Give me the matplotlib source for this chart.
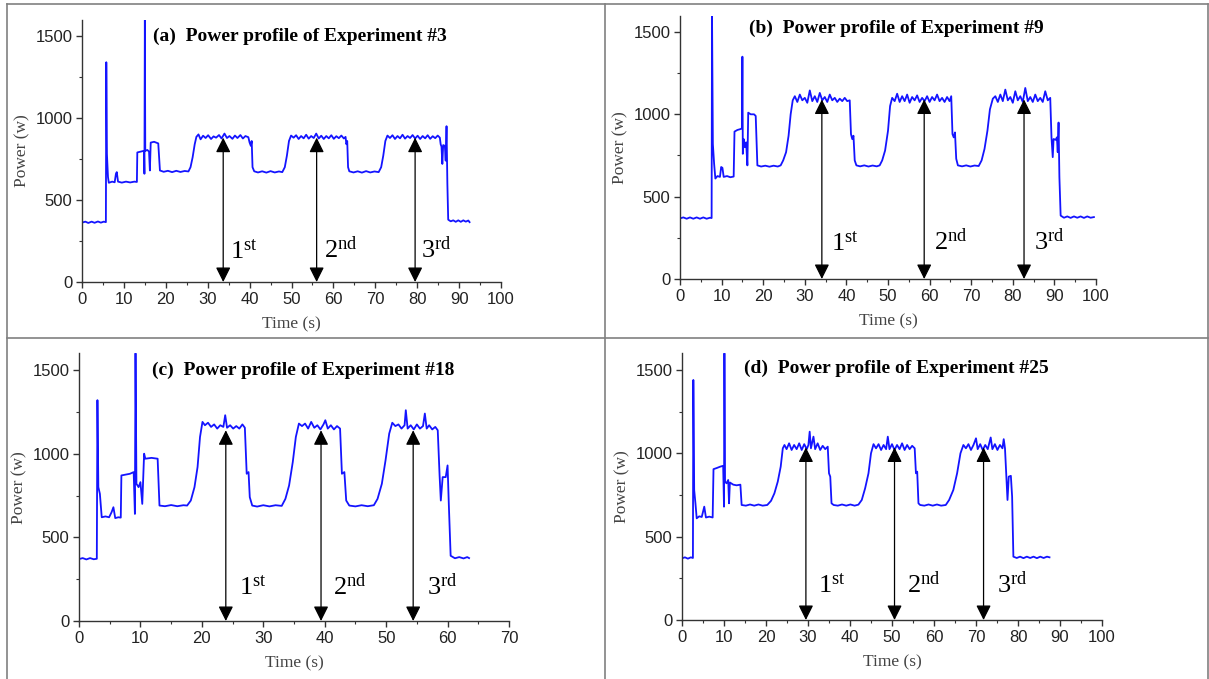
import matplotlib
matplotlib.use('Agg')
import matplotlib.pyplot as plt
from matplotlib.lines import Line2D
from matplotlib.ticker import MultipleLocator

# power traces: (time s, power W)
exp3 = [(0.0, 362), (0.8, 368), (1.5, 360), (2.3, 368), (3.0, 361), (3.8, 369), (4.5, 362), (5.2, 368), (5.7, 365),
        (5.8, 1340), (5.95, 780), (6.2, 640), (6.4, 605), (7.2, 612), (7.8, 608), (8.1, 660), (8.3, 670), (8.6, 612),
        (9.5, 606), (10.5, 612), (11.5, 607), (12.5, 612), (13.1, 610),
        (13.2, 790), (14.0, 795), (14.8, 800), (14.9, 660), (15.0, 1600), (15.1, 800), (15.6, 805), (16.0, 795),
        (16.2, 680), (16.4, 850), (17.2, 855), (18.2, 845),
        (18.6, 680), (19.5, 672), (20.5, 678), (21.5, 670), (22.5, 678), (23.5, 671), (24.5, 677), (25.4, 674),
        (25.9, 700), (26.4, 760), (26.9, 840), (27.3, 885),
        (27.8, 900), (28.3, 870), (28.9, 892), (29.5, 878), (30.1, 895), (30.8, 872), (31.4, 888), (32.0, 880),
        (32.7, 896), (33.3, 875), (34.0, 905), (34.6, 878), (35.2, 890), (35.9, 873), (36.5, 893), (37.1, 878),
        (37.8, 896), (38.4, 875), (39.0, 890), (39.7, 883),
        (40.0, 850), (40.3, 830), (40.5, 860), (40.7, 700), (41.1, 675),
        (42.0, 668), (43.0, 675), (44.0, 667), (45.0, 676), (46.0, 668), (47.0, 674), (47.8, 670),
        (48.4, 700), (48.9, 770), (49.4, 860), (49.9, 893),
        (50.5, 880), (51.1, 895), (51.7, 872), (52.3, 890), (52.9, 876), (53.5, 898), (54.1, 874), (54.7, 890),
        (55.3, 878), (55.9, 905), (56.5, 875), (57.1, 892), (57.7, 872), (58.3, 890), (58.9, 876), (59.5, 895),
        (60.1, 873), (60.7, 889), (61.3, 877), (61.9, 893), (62.5, 875), (62.9, 885),
        (63.1, 840), (63.3, 860), (63.5, 700), (63.8, 675),
        (64.8, 668), (65.8, 675), (66.8, 667), (67.8, 676), (68.8, 668), (69.8, 674), (70.8, 670),
        (71.4, 700), (71.9, 770), (72.4, 860), (72.9, 893),
        (73.5, 878), (74.1, 895), (74.7, 872), (75.3, 890), (75.9, 876), (76.5, 898), (77.1, 874), (77.7, 890),
        (78.3, 878), (78.9, 896), (79.5, 875), (80.1, 892), (80.7, 872), (81.3, 890), (81.9, 876), (82.5, 895),
        (83.1, 873), (83.7, 889), (84.3, 877), (84.9, 893), (85.4, 880),
        (85.6, 840), (85.8, 825), (86.0, 720), (86.2, 835), (86.6, 830), (86.8, 740), (87.0, 950), (87.2, 600),
        (87.4, 380), (88.0, 370), (88.6, 376), (89.2, 367), (89.8, 376), (90.4, 367), (91.0, 376), (91.6, 368),
        (92.2, 375), (92.5, 365)]

exp9 = [(0.0, 368), (0.8, 374), (1.6, 366), (2.4, 374), (3.2, 366), (4.0, 374), (4.8, 366), (5.6, 374), (6.4, 366),
        (7.2, 372), (7.6, 370),
        (7.7, 1600), (7.9, 820), (8.2, 700), (8.5, 610), (9.0, 625), (9.6, 620), (9.9, 680), (10.2, 675), (10.5, 620),
        (11.3, 625), (12.1, 618), (12.9, 622),
        (13.1, 895), (13.8, 905), (14.5, 910), (14.9, 915),
        (15.0, 1350), (15.1, 760), (15.3, 850), (15.6, 800), (15.9, 830), (16.2, 690), (16.4, 1010), (17.0, 1000),
        (17.8, 1000), (18.2, 990),
        (18.6, 690), (19.5, 683), (20.5, 688), (21.5, 682), (22.5, 688), (23.5, 683), (24.2, 690),
        (24.8, 720), (25.5, 770), (26.1, 870), (26.6, 1000), (27.1, 1085),
        (27.6, 1110), (28.2, 1075), (28.8, 1120), (29.4, 1085), (30.0, 1100), (30.6, 1070), (31.2, 1145), (31.8, 1080),
        (32.4, 1110), (33.0, 1075), (33.6, 1130), (34.2, 1085), (34.8, 1105), (35.4, 1075), (36.0, 1120), (36.6, 1085),
        (37.2, 1100), (37.8, 1075), (38.4, 1095), (39.0, 1080), (39.6, 1100), (40.2, 1080), (40.8, 1085),
        (41.1, 880), (41.4, 850), (41.7, 870), (42.0, 720), (42.4, 690),
        (43.3, 684), (44.3, 690), (45.3, 683), (46.3, 689), (47.3, 684), (48.0, 690),
        (48.6, 720), (49.3, 780), (50.0, 900), (50.5, 1050), (51.0, 1100),
        (51.6, 1080), (52.2, 1125), (52.8, 1075), (53.4, 1110), (54.0, 1080), (54.6, 1120), (55.2, 1070), (55.8, 1105),
        (56.4, 1085), (57.0, 1115), (57.6, 1075), (58.2, 1100), (58.8, 1080), (59.4, 1110), (60.0, 1075), (60.6, 1105),
        (61.2, 1085), (61.8, 1120), (62.4, 1080), (63.0, 1100), (63.6, 1075), (64.2, 1105), (64.8, 1080), (65.2, 1110),
        (65.5, 880), (65.8, 860), (66.1, 890), (66.4, 730), (66.8, 690),
        (67.8, 684), (68.8, 690), (69.8, 683), (70.8, 689), (71.8, 686),
        (72.5, 720), (73.2, 790), (73.9, 900), (74.5, 1030), (75.2, 1095),
        (75.8, 1110), (76.4, 1075), (77.0, 1120), (77.6, 1080), (78.2, 1150), (78.8, 1085), (79.4, 1105), (80.0, 1070),
        (80.6, 1140), (81.2, 1085), (81.8, 1110), (82.4, 1075), (83.0, 1160), (83.6, 1080), (84.2, 1105), (84.8, 1075),
        (85.4, 1120), (86.0, 1080), (86.6, 1100), (87.2, 1075), (87.8, 1140), (88.4, 1085), (89.0, 1100),
        (89.3, 860), (89.6, 740), (89.8, 850), (90.3, 845), (90.6, 860), (90.8, 770), (91.0, 950), (91.2, 620),
        (91.5, 385), (92.3, 372), (93.1, 380), (93.9, 371), (94.7, 380), (95.5, 372), (96.3, 380), (97.1, 371),
        (97.9, 380), (98.7, 372), (99.5, 376)]

exp18 = [(0.0, 370), (0.6, 376), (1.2, 368), (1.8, 376), (2.4, 369), (2.9, 372),
         (3.0, 1320), (3.15, 800), (3.4, 760), (3.7, 620), (4.3, 625), (4.9, 620), (5.3, 650), (5.6, 680), (5.9, 615),
         (6.4, 620), (6.8, 618),
         (6.9, 870), (7.6, 875), (8.3, 880), (8.9, 890),
         (9.1, 640), (9.2, 1600), (9.35, 820), (9.7, 800), (10.0, 830), (10.3, 700), (10.6, 1000), (10.8, 970),
         (11.8, 975), (12.8, 970),
         (13.1, 690), (14.0, 686), (15.0, 693), (16.0, 686), (17.0, 692), (17.6, 690),
         (18.2, 720), (18.8, 800), (19.3, 920), (19.7, 1100), (20.1, 1190),
         (20.5, 1170), (21.0, 1185), (21.5, 1160), (22.0, 1175), (22.5, 1150), (23.0, 1170), (23.5, 1160), (23.8, 1230),
         (24.1, 1155), (24.6, 1170), (25.1, 1150), (25.6, 1165), (26.1, 1150), (26.6, 1175), (27.0, 1155),
         (27.3, 880), (27.6, 890), (27.8, 740), (28.2, 690),
         (29.0, 684), (30.0, 692), (31.0, 685), (32.0, 692), (33.0, 688),
         (33.6, 730), (34.2, 810), (34.8, 950), (35.3, 1100), (35.8, 1180),
         (36.3, 1165), (36.8, 1180), (37.3, 1150), (37.8, 1190), (38.3, 1155), (38.8, 1170), (39.3, 1145), (39.8, 1175),
         (40.1, 1200), (40.5, 1150), (41.0, 1170), (41.5, 1145), (42.0, 1165), (42.5, 1150),
         (42.8, 880), (43.2, 890), (43.5, 720), (44.0, 690),
         (45.0, 685), (46.0, 692), (47.0, 686), (48.0, 692),
         (48.6, 730), (49.3, 820), (49.9, 960), (50.5, 1120), (51.0, 1185),
         (51.5, 1165), (52.0, 1175), (52.5, 1150), (53.0, 1170), (53.2, 1260), (53.5, 1150), (54.0, 1170), (54.5, 1145),
         (55.0, 1175), (55.5, 1150), (56.0, 1165), (56.3, 1240), (56.6, 1150), (57.0, 1170), (57.5, 1145), (58.0, 1160),
         (58.4, 1140),
         (58.7, 870), (58.9, 720), (59.2, 860), (59.7, 860), (60.0, 930), (60.2, 700), (60.5, 390),
         (61.2, 375), (61.9, 382), (62.6, 374), (63.2, 382), (63.5, 376)]

exp25 = [(0.0, 370), (0.7, 376), (1.4, 368), (2.1, 376), (2.6, 372),
         (2.7, 1440), (2.9, 780), (3.2, 700), (3.5, 610), (4.1, 622), (4.7, 618), (5.1, 660), (5.3, 680), (5.7, 615),
         (6.5, 620), (7.3, 615),
         (7.5, 905), (8.3, 912), (9.1, 920), (9.8, 925),
         (10.0, 680), (10.1, 1600), (10.25, 830), (10.6, 820), (11.0, 840), (11.2, 700), (11.4, 825), (12.2, 812),
         (13.0, 808), (13.9, 812),
         (14.2, 690), (15.2, 686), (16.2, 693), (17.2, 686), (18.2, 693), (19.2, 686), (20.3, 690),
         (21.2, 715), (22.0, 760), (22.8, 830), (23.5, 920), (24.0, 1030), (24.4, 1050),
         (24.9, 1025), (25.5, 1060), (26.1, 1020), (26.7, 1050), (27.3, 1025), (27.9, 1060), (28.5, 1020), (29.1, 1055),
         (29.7, 1025), (30.1, 1050), (30.4, 1130), (30.7, 1030), (31.3, 1100), (31.7, 1025), (32.3, 1060), (32.9, 1020),
         (33.5, 1045), (34.1, 1025), (34.7, 1040),
         (35.0, 880), (35.3, 860), (35.6, 700), (36.1, 690),
         (37.1, 686), (38.1, 693), (39.1, 686), (40.1, 693), (41.1, 686), (42.0, 692),
         (42.8, 720), (43.6, 790), (44.4, 880), (45.0, 1000), (45.6, 1055),
         (46.2, 1030), (46.8, 1055), (47.4, 1020), (48.0, 1050), (48.6, 1025), (49.0, 1100), (49.4, 1025), (50.0, 1055),
         (50.6, 1020), (51.2, 1050), (51.8, 1025), (52.4, 1060), (53.0, 1020), (53.6, 1050), (54.2, 1025), (54.8, 1045),
         (55.4, 1030),
         (55.7, 880), (56.0, 890), (56.3, 700), (56.7, 690),
         (57.7, 686), (58.7, 693), (59.7, 686), (60.7, 693), (61.7, 686), (62.8, 690),
         (63.6, 720), (64.6, 780), (65.5, 880), (66.3, 1000), (67.0, 1050),
         (67.6, 1030), (68.2, 1055), (68.8, 1020), (69.4, 1050), (70.0, 1090), (70.4, 1025), (71.0, 1055), (71.6, 1020),
         (72.2, 1050), (72.8, 1025), (73.5, 1095), (73.9, 1025), (74.5, 1055), (75.1, 1020), (75.7, 1050), (76.3, 1030),
         (76.6, 1085), (76.9, 1030),
         (77.2, 870), (77.5, 720), (77.8, 860), (78.3, 865), (78.6, 740), (78.9, 380),
         (79.7, 372), (80.5, 380), (81.3, 371), (82.1, 380), (82.9, 372), (83.7, 380), (84.5, 371), (85.3, 380),
         (86.1, 372), (86.9, 380), (87.5, 376)]

titles = ['(a)  Power profile of Experiment #3', '(b)  Power profile of Experiment #9',
          '(c)  Power profile of Experiment #18', '(d)  Power profile of Experiment #25']
xmax = [100, 100, 70, 100]

# where the three measured cycles are marked
arrow_x = [[33.7, 56.0, 79.5], [34.1, 58.7, 82.7], [23.9, 39.4, 54.4], [29.5, 50.6, 71.8]]
arrow_top = [880, 1090, 1140, 1035]
label_x = [[35.3, 57.8, 81.0], [36.2, 61.1, 85.0], [26.0, 41.4, 56.7], [32.5, 53.6, 75.1]]
label_y = [145, 176, 157, 164]
ordinals = [r'$\mathregular{1^{st}}$', r'$\mathregular{2^{nd}}$', r'$\mathregular{3^{rd}}$']
title_x = [52, 52, 36.5, 51]
title_y = [1500, 1520, 1500, 1510]

W, H = 1209, 679
fig = plt.figure(figsize=(W / 100, H / 100), dpi=100)

# axes boxes in pixels: left, bottom(from top), width, height
boxes = [(82, 282, 419, 262.4), (680, 279, 416, 263.5), (79, 621, 430, 267.7), (682, 620, 420, 266.7)]
traces = [exp3, exp9, exp18, exp25]

for i in range(4):
    l, b, w, h = boxes[i]
    ax = fig.add_axes([l / W, (H - b) / H, w / W, h / H])
    t, p = zip(*traces[i])
    ax.plot(t, p, color='#1414ff', lw=1.3)
    ax.set_xlim(0, xmax[i])
    ax.set_ylim(0, 1600)
    ax.xaxis.set_major_locator(MultipleLocator(10))
    ax.xaxis.set_minor_locator(MultipleLocator(5))
    ax.yaxis.set_major_locator(MultipleLocator(500))
    ax.yaxis.set_minor_locator(MultipleLocator(250))
    for s in ['top', 'right']:
        ax.spines[s].set_visible(False)
    for s in ['left', 'bottom']:
        ax.spines[s].set_color('#333333')
        ax.spines[s].set_linewidth(1.0)
    ax.tick_params(which='major', direction='out', length=4, width=1, color='#333333',
                   labelsize=12, labelcolor='#222222', pad=3)
    ax.tick_params(which='minor', direction='out', length=2.5, width=0.8, color='#333333')
    for lab in ax.get_xticklabels() + ax.get_yticklabels():
        lab.set_fontfamily('Liberation Sans')

    ax.set_xlabel('Time (s)', fontfamily='Liberation Serif', fontsize=12.5, color='#444444')
    ax.set_ylabel('Power (w)', fontfamily='Liberation Serif', fontsize=12.5, color='#444444')
    ax.xaxis.set_label_coords(0.5, -34 / h)
    ax.yaxis.set_label_coords(-52 / w, 0.5)

    ax.text(title_x[i], title_y[i], titles[i], ha='center', va='center', fontsize=14,
            fontweight='bold', fontfamily='Liberation Serif', color='black')

    for j in range(3):
        ax.annotate('', xy=(arrow_x[i][j], 0), xytext=(arrow_x[i][j], arrow_top[i]),
                    arrowprops=dict(arrowstyle='<|-|>,head_length=0.6,head_width=0.3',
                                    mutation_scale=15, color='black', lw=0.9,
                                    shrinkA=0, shrinkB=0))
        ax.text(label_x[i][j], label_y[i], ordinals[j], ha='left', va='baseline',
                fontsize=19, fontfamily='Liberation Serif', color='black')

# table cell borders around the four panels
border = '#808080'
def hline(y, x0, x1):
    fig.add_artist(Line2D([x0 / W, x1 / W], [(H - y) / H, (H - y) / H], color=border, lw=1.2))
def vline(x, y0, y1):
    fig.add_artist(Line2D([x / W, x / W], [(H - y0) / H, (H - y1) / H], color=border, lw=1.2))

hline(4, 7, 1208)
hline(338, 7, 1208)
vline(7, 4, 679)
vline(605, 4, 679)
vline(1208, 4, 679)

fig.savefig('out.png', dpi=100)
